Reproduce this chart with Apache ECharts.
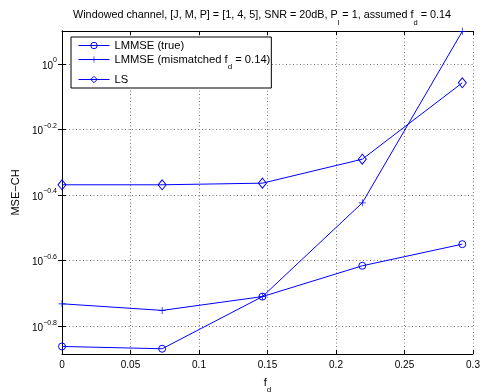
<!DOCTYPE html>
<html>
<head>
<meta charset="utf-8">
<script src="https://cdn.jsdelivr.net/npm/echarts@6/dist/echarts.min.js"></script>
<style>html,body{margin:0;padding:0;background:#fff}#c{width:484px;height:392px}</style>
</head>
<body>
<div id="c"></div>
<script>
const fd = [0, 0.0731, 0.1463, 0.2192, 0.2922];
const lmmseTrue = [0.1374, 0.1352, 0.1950, 0.2421, 0.2818];
const lmmseMismatched = [0.1854, 0.1770, 0.1950, 0.3767, 1.256];
const ls = [0.4276, 0.4276, 0.4325, 0.5117, 0.8750];
const yTickExps = [-0.8, -0.6, -0.4, -0.2, 0];
const xTicks = [0, 0.05, 0.1, 0.15, 0.2, 0.25, 0.3];

const yMin = Math.pow(10, -0.885), yMax = Math.pow(10, 0.1);
const yTickVals = yTickExps.map(e => Math.pow(10, e));
const FONT = 'Liberation Sans';
const BLUE = '#0000ff';
const pair = arr => fd.map((x, i) => [x, arr[i]]);

function yFmt(v) {
  const e = Math.round(Math.log10(v) * 10) / 10;
  const s = (e === 0 ? '0' : String(e)).replace('-', '\u2212');
  return '{b|10}{s|' + s + '}';
}
const yRich = {
  b: {fontSize: 10, fontFamily: FONT, color: '#000', lineHeight: 14, verticalAlign: 'bottom', padding: [8, 0, 0, 0]},
  s: {fontSize: 7, fontFamily: FONT, color: '#000', lineHeight: 8, verticalAlign: 'top'}
};
const subStyle = size => ({fontSize: size, fontFamily: FONT, color: '#000', lineHeight: 7, verticalAlign: 'bottom', padding: [0, 0, -6, 0]});

const chart = echarts.init(document.getElementById('c'), null, {renderer: 'canvas'});
const tickStyle = {show: true, inside: true, length: 4, lineStyle: {color: '#000', width: 1}};
const hollow = {color: 'rgba(255,255,255,0)', borderColor: BLUE, borderWidth: 1};
const option = {
  animation: false,
  backgroundColor: '#fff',
  title: {
    text: 'Windowed channel, [J, M, P] = [1, 4, 5], SNR = 20dB, P{sub|l} = 1, assumed f{sub|d} = 0.14',
    left: 257, top: 5, textAlign: 'center',
    textStyle: {
      fontSize: 10.8, fontFamily: FONT, fontWeight: 'normal', color: '#000',
      rich: {sub: subStyle(7.5)}
    }
  },
  legend: {
    orient: 'vertical', left: 71, top: 37,
    backgroundColor: '#fff', borderColor: '#000', borderWidth: 1,
    padding: [3, 1, 3, 7], itemGap: 3, itemWidth: 31, itemHeight: 8,
    itemStyle: {borderWidth: 1},
    lineStyle: {width: 1},
    textStyle: {
      fontSize: 11.2, fontFamily: FONT, color: '#000',
      rich: {sub: subStyle(8)}
    },
    data: [
      {name: 'LMMSE (true)'},
      {name: 'LMMSE (mismatched f{sub|d} = 0.14)'},
      {name: 'LS'}
    ]
  },
  grid: {left: 62, right: 11, top: 31, bottom: 38, show: false, containLabel: false, outerBoundsMode: 'none'},
  xAxis: [{
    type: 'value', min: 0, max: 0.3, interval: 0.05,
    name: 'f{sub|d}', nameLocation: 'middle', nameGap: 23,
    nameTextStyle: {fontSize: 11, fontFamily: FONT, color: '#000', rich: {sub: subStyle(8)}},
    axisLine: {show: true, lineStyle: {color: '#000', width: 1}},
    axisTick: tickStyle,
    axisLabel: {fontSize: 10, fontFamily: FONT, color: '#000', margin: 6, showMinLabel: true, showMaxLabel: true},
    splitLine: {show: true, lineStyle: {color: '#777', width: 1, type: [1, 2.5]}}
  }, {
    type: 'value', min: 0, max: 0.3, interval: 0.05, position: 'top',
    axisLine: {show: true, lineStyle: {color: '#000', width: 1}},
    axisTick: tickStyle, axisLabel: {show: false}, splitLine: {show: false}
  }],
  yAxis: [{
    type: 'log', logBase: 10, min: yMin, max: yMax,
    name: 'MSE\u2212CH', nameLocation: 'middle', nameGap: 29, nameRotate: 90,
    nameTextStyle: {fontSize: 11, fontFamily: FONT, color: '#000'},
    axisLine: {show: true, lineStyle: {color: '#000', width: 1}},
    axisTick: Object.assign({customValues: yTickVals}, tickStyle),
    axisLabel: {customValues: yTickVals, formatter: yFmt, rich: yRich, margin: 5},
    splitLine: {show: true, lineStyle: {color: '#777', width: 1, type: [1, 2.5]}}
  }, {
    type: 'log', logBase: 10, min: yMin, max: yMax, position: 'right',
    axisLine: {show: true, lineStyle: {color: '#000', width: 1}},
    axisTick: Object.assign({customValues: yTickVals}, tickStyle),
    axisLabel: {show: false}, splitLine: {show: false}
  }],
  series: [{
    name: 'LMMSE (true)', type: 'line', data: pair(lmmseTrue),
    symbol: 'circle', symbolSize: 7,
    lineStyle: {color: BLUE, width: 1}, itemStyle: hollow
  }, {
    name: 'LMMSE (mismatched f{sub|d} = 0.14)', type: 'line', data: pair(lmmseMismatched),
    symbol: 'path://M0,4.5H10V5.5H0Z M4.5,0H5.5V10H4.5Z', symbolSize: 7,
    lineStyle: {color: BLUE, width: 1}, itemStyle: {color: BLUE}
  }, {
    name: 'LS', type: 'line', data: pair(ls),
    symbol: 'diamond', symbolSize: [8, 10],
    lineStyle: {color: BLUE, width: 1}, itemStyle: hollow
  }]
};
chart.setOption(option);
</script>
</body>
</html>
